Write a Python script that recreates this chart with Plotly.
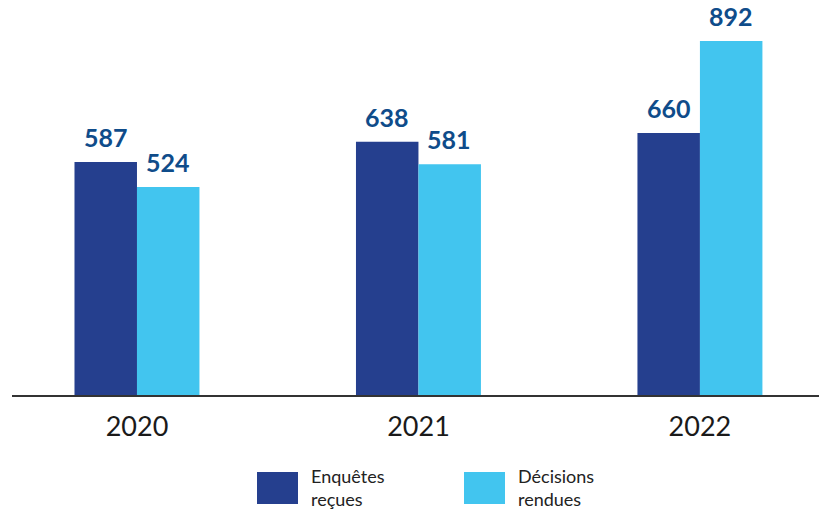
import plotly.graph_objects as go

years = ["2020", "2021", "2022"]
series_names = ["Enquêtes<br>reçues", "Décisions<br>rendues"]
enquetes = [587, 638, 660]
decisions = [524, 581, 892]

colors = ["#253f8e", "#42c5ef"]
label_color = "#0f4c8a"

OFF = 0  # page body margin removed via post_script
W, H = 819, 511
ml, mr, mt, mb = 12, 0, 0, 116

fig = go.Figure()
for name, vals, col in zip(series_names, [enquetes, decisions], colors):
    fig.add_trace(go.Bar(
        x=years, y=vals, name=name, marker=dict(color=col, line=dict(width=0)),
        showlegend=False,
    ))

# value labels (category axis: annotation x uses category index)
for vals, shift in zip([enquetes, decisions], [-31, 31]):
    for i, v in enumerate(vals):
        fig.add_annotation(x=i, y=v, xref="x", yref="y", xshift=shift, yshift=9,
                           yanchor="bottom", text="<b>%d</b>" % v, showarrow=False,
                           borderpad=0,
                           font=dict(family="Lato", size=25, color=label_color))

fig.update_layout(
    width=W, height=H, margin=dict(l=ml, r=mr, t=mt, b=mb),
    paper_bgcolor="white", plot_bgcolor="white",
    barmode="group", bargap=0.556, bargroupgap=0,
    xaxis=dict(type="category", range=[-0.444, 2.423], showgrid=False,
               showline=True, linecolor="#333333", linewidth=1.5, ticks="",
               ticklabelstandoff=7,
               tickfont=dict(family="Lato", size=27, color="#1a1a1a")),
    yaxis=dict(range=[0, 995], showgrid=False, zeroline=False, showline=False,
               showticklabels=False, ticks=""),
)

# custom legend (page pixel coordinates converted to paper)
pw = W - ml - mr
ph = H - mt - mb
def px(x):
    return (x - OFF - ml) / pw
def py(y):
    return (H - mb - (y - OFF)) / ph

legend_x = [257, 464]
for i, (name, col) in enumerate(zip(series_names, colors)):
    x0 = legend_x[i]
    fig.add_shape(type="rect", xref="paper", yref="paper",
                  x0=px(x0), x1=px(x0 + 41), y0=py(504), y1=py(472),
                  fillcolor=col, line=dict(width=0))
    fig.add_annotation(xref="paper", yref="paper", x=px(x0 + 52), y=py(488),
                       xanchor="left", yanchor="middle", text=name, showarrow=False,
                       align="left",
                       font=dict(family="Lato", size=18, color="#222222"))

fig.write_html("out.html", config={"displayModeBar": False},
               post_script="document.body.style.margin='0';document.body.style.overflow='hidden';")
